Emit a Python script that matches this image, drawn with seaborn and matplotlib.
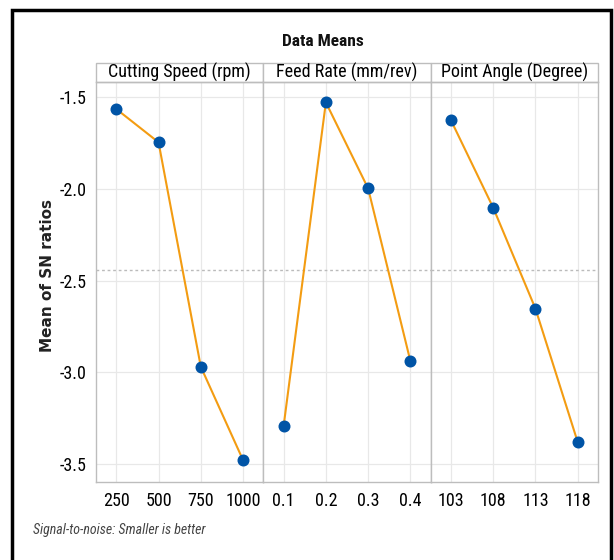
import matplotlib
matplotlib.use("Agg")
import matplotlib.pyplot as plt
import matplotlib.patches as patches
from matplotlib import font_manager
import numpy as np
import pandas as pd
import seaborn as sns

# ---- data ----
factors = ["Cutting Speed (rpm)", "Feed Rate (mm/rev)", "Point Angle (Degree)"]
speed_levels = ["250", "500", "750", "1000"]
speed_means = [-1.567, -1.748, -2.969, -3.477]
feed_levels = ["0.1", "0.2", "0.3", "0.4"]
feed_means = [-3.292, -1.531, -1.999, -2.938]
angle_levels = ["103", "108", "113", "118"]
angle_means = [-1.628, -2.104, -2.653, -3.379]
y_ticks = [-1.5, -2.0, -2.5, -3.0, -3.5]

levels_all = [speed_levels, feed_levels, angle_levels]
means_all = [speed_means, feed_means, angle_means]
frames = []
for f, lv, mv in zip(factors, levels_all, means_all):
    frames.append(pd.DataFrame({"factor": f, "level": lv, "value": mv}))
df = pd.concat(frames, ignore_index=True)
grand_mean = df.groupby("factor")["value"].mean().mean()

sns.set_theme(style="white")

# pick a condensed sans family if one is installed
ttf = font_manager.fontManager.ttflist
names = {f.name for f in ttf}
fam = None
for pref in ["Liberation Sans Narrow", "Roboto Condensed", "Open Sans Condensed",
             "Noto Sans Condensed", "DejaVu Sans Condensed"]:
    if pref in names:
        fam = pref
        break
stretch = "normal"
if fam is None:
    fam = "DejaVu Sans"
    stretch = "condensed"
plt.rcParams["font.family"] = [fam, "DejaVu Sans"]
plt.rcParams["font.stretch"] = stretch

W, H = 614, 560
fig, axes = plt.subplots(1, 3, figsize=(W / 100, H / 100), dpi=100, sharey=True)
fig.subplots_adjust(left=96 / W, right=598 / W, top=1 - 82 / H, bottom=1 - 482 / H, wspace=0)

orange = "#F39C12"
blue = "#0054A6"
grid_c = "#E8E8E8"
spine_c = "#BDBDBD"

for ax, f, lv in zip(axes, factors, levels_all):
    sub = df[df["factor"] == f]
    sns.pointplot(data=sub, x="level", y="value", order=lv, ax=ax,
                  color=orange, linewidth=1.5, marker="o",
                  markerfacecolor=blue, markeredgecolor=blue, markersize=7.5,
                  errorbar=None)
    ax.set_xlim(-0.48, len(lv) - 1 + 0.48)
    ax.set_ylim(-3.596, -1.42)
    ax.set_yticks(y_ticks)
    ax.set_yticklabels([f"{v:.1f}" for v in y_ticks])
    ax.grid(True, color=grid_c, linewidth=0.9)
    ax.set_axisbelow(True)
    ax.axhline(grand_mean, color="#BBBBBB", linestyle=(0, (2, 2)), linewidth=1.0, zorder=1)
    ax.set_xlabel("")
    ax.set_ylabel("")
    for s in ax.spines.values():
        s.set_color(spine_c)
        s.set_linewidth(1.0)
    ax.tick_params(axis="x", length=0, pad=7, colors="#000000", labelsize=13)
    ax.tick_params(axis="y", length=4, color=spine_c, width=1, pad=3, colors="#000000", labelsize=13)
    # strip header
    sh = 19 / 400
    rect = patches.Rectangle((0, 1), 1, sh, transform=ax.transAxes, clip_on=False,
                             facecolor="white", edgecolor=spine_c, linewidth=1.0)
    ax.add_patch(rect)
    ax.text(0.5, 1 + sh / 2, f, transform=ax.transAxes, ha="center", va="center",
            fontsize=13, color="#000000")

for ax in axes[1:]:
    ax.tick_params(axis="y", left=False, labelleft=False)

fig.text(323 / W, 1 - 42 / H, "Data Means", ha="center", va="center",
         fontsize=12.5, fontweight="bold", color="#111111")
fig.text(47 / W, 1 - 276 / H, "Mean of SN ratios", rotation=90, ha="center", va="center",
         fontsize=11, fontweight="bold", color="#222222", family=["DejaVu Sans"],
         fontstretch="normal")
fig.text(33 / W, 1 - 530 / H, "Signal-to-noise: Smaller is better", ha="left", va="center",
         fontsize=10, style="italic", color="#444444")

frame = patches.Rectangle((12 / W, -0.2), (611 - 12) / W, 1.2 - 10 / H, transform=fig.transFigure,
                          fill=False, edgecolor="black", linewidth=2.5, clip_on=False)
fig.patches.append(frame)

fig.savefig("out.png", dpi=100, facecolor="white")
